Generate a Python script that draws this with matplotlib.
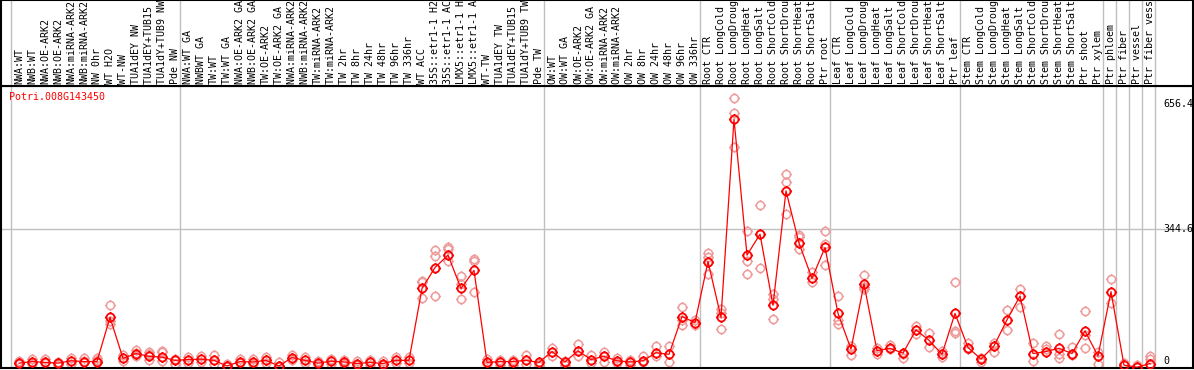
import numpy as np
import matplotlib.pyplot as plt
from matplotlib.path import Path

# gene shown in the panel
gene = "Potri.008G143450"

# samples, grouped (group boundaries are drawn as grey lines)
group_sizes = [13, 28, 12, 10, 10, 11, 1, 1, 1, 1]
samples = [
    "NWA:WT", "NWB:WT", "NWA:OE-ARK2", "NWB:OE-ARK2", "NWA:miRNA-ARK2",
    "NWB:miRNA-ARK2", "NW 0hr", "WT H2O", "WT-NW", "TUA1dEY NW",
    "TUA1dEY+TUB15 NW", "TUA1dY+TUB9 NW", "Pde NW",
    "NWA:WT GA", "NWBWT GA", "TW:WT", "TW:WT GA", "NWA:OE-ARK2 GA",
    "NWB:OE-ARK2 GA", "TW:OE-ARK2", "TW:OE-ARK2 GA", "NWA:miRNA-ARK2 GA",
    "NWB:miRNA-ARK2 GA", "TW:miRNA-ARK2", "TW:miRNA-ARK2 GA", "TW 2hr",
    "TW 8hr", "TW 24hr", "TW 48hr", "TW 96hr", "TW 336hr", "WT ACC",
    "35S::etr1-1 H2O", "35S::etr1-1 ACC", "LMX5::etr1-1 H2O",
    "LMX5::etr1-1 ACC", "WT-TW", "TUA1dEY TW", "TUA1dEY+TUB15 TW",
    "TUA1dY+TUB9 TW", "Pde TW",
    "OW:WT", "OW:WT GA", "OW:OE-ARK2", "OW:OE-ARK2 GA", "OW:miRNA-ARK2",
    "OW:miRNA-ARK2 GA", "OW 2hr", "OW 8hr", "OW 24hr", "OW 48hr", "OW 96hr",
    "OW 336hr",
    "Root CTR", "Root LongCold", "Root LongDrought", "Root LongHeat",
    "Root LongSalt", "Root ShortCold", "Root ShortDrought", "Root ShortHeat",
    "Root ShortSalt", "Ptr root",
    "Leaf CTR", "Leaf LongCold", "Leaf LongDrought", "Leaf LongHeat",
    "Leaf LongSalt", "Leaf ShortCold", "Leaf ShortDrought", "Leaf ShortHeat",
    "Leaf ShortSalt", "Ptr leaf",
    "Stem CTR", "Stem LongCold", "Stem LongDrought", "Stem LongHeat",
    "Stem LongSalt", "Stem ShortCold", "Stem ShortDrought", "Stem ShortHeat",
    "Stem ShortSalt", "Ptr shoot", "Ptr xylem",
    "Ptr phloem", "Ptr fiber", "Ptr vessel", "Ptr fiber vessel",
]

# mean expression per sample
means = [
    10, 14, 12, 10, 16, 14, 14, 124, 22, 34, 27, 25, 17,
    19, 20, 17, 3, 14, 13, 17, 3, 24, 17, 10, 15, 13, 9, 12, 9, 17, 17,
    196, 248, 279, 196, 241, 12, 14, 14, 17, 12,
    39, 13, 41, 19, 27, 16, 13, 16, 36, 32, 126, 111,
    263, 124, 617, 279, 331, 154, 439, 309, 221, 298,
    134, 45, 207, 41, 47, 35, 93, 67, 32, 134,
    49, 20, 53, 118, 177, 34, 39, 47, 34, 90, 28,
    188, 5, 0, 9,
]

# individual replicates per sample
replicates = [
    [16, 7], [20, 7], [20, 10], [5, 12], [24, 9], [24, 15], [22, 17, 12],
    [154, 107, 114], [30, 15], [42, 27, 35], [39, 19, 32], [41, 37, 16],
    [7, 20],
    [25, 10], [27, 12], [30, 7], [7, 2], [20, 10], [20, 7], [25, 10],
    [12, 2], [30, 17], [25, 10], [15, 5], [20, 7], [17, 7], [15, 5],
    [17, 5], [15, 5], [25, 10], [25, 10],
    [211, 173, 215], [291, 276, 177], [298, 264, 294], [226, 171, 207],
    [270, 264, 186], [20, 7], [17, 5], [17, 5], [30, 7], [7, 2],
    [49, 28], [15, 5], [57, 27], [30, 10], [38, 12], [22, 10], [17, 5],
    [27, 12], [52, 27], [52, 13], [151, 104, 117], [104, 117],
    [285, 231, 274], [144, 96, 134], [671, 632, 547], [338, 264, 233],
    [403, 331, 246], [183, 119, 169], [482, 460, 382], [329, 295, 323],
    [236, 211], [338, 306, 254],
    [176, 118, 107], [30, 52], [229, 199, 194], [32, 47], [45, 55],
    [32, 22], [103, 82], [85, 50], [40, 25], [212, 90, 86],
    [61, 45], [24, 12], [60, 37], [142, 92], [194, 151], [61, 16],
    [53, 45], [82, 32, 24], [50, 30], [140, 80, 49], [38, 7],
    [219, 161], [10], [5], [28, 20],
]

# value labels on the right
scale_marks = [656.4, 344.6, 0]

W, H = 1194, 370
fig = plt.figure(figsize=(W / 100, H / 100), dpi=100)


def px_box(x0, y0, x1, y1):
    return [x0 / W, 1 - y1 / H, (x1 - x0) / W, (y1 - y0) / H]


ax = fig.add_axes(px_box(1, 86, 1193, 368))
hx = fig.add_axes(px_box(1, 0, 1193, 86))

xs = np.arange(len(samples))
xlim = ((1 - 19) / 13, (1193 - 19) / 13)
grid_c = "#c0c0c0"
mono = "DejaVu Sans Mono"

# ring marker with four little ticks
theta = np.linspace(0, 2 * np.pi, 33)
verts = list(zip(np.cos(theta), np.sin(theta)))
codes = [Path.MOVETO] + [Path.LINETO] * 32
for dx, dy in [(0, 1), (0, -1), (1, 0), (-1, 0)]:
    verts += [(dx, dy), (dx * 1.35, dy * 1.35)]
    codes += [Path.MOVETO, Path.LINETO]
ring = Path(verts, codes)

# group separators
bounds = np.concatenate([[0], np.cumsum(group_sizes)]) - 8 / 13
for a in (ax, hx):
    for b in bounds:
        a.axvline(b, color=grid_c, lw=1.0, zorder=0)
ax.axhline(344.6, color=grid_c, lw=1.0, zorder=0)

# replicates
for x, reps in zip(xs, replicates):
    ax.plot([x] * len(reps), reps, linestyle="none", marker=ring,
            markersize=7.8, markerfacecolor="none", markeredgecolor="#ef9a9a",
            markeredgewidth=1.1, zorder=2)

# mean line
ax.plot(xs, means, color="red", lw=0.9, zorder=3)
ax.plot(xs, means, linestyle="none", marker=ring, markersize=7.8,
        markerfacecolor="none", markeredgecolor="red", markeredgewidth=1.3,
        zorder=4)

ax.set_xlim(*xlim)
ax.set_ylim(-2, 700)
ax.set_xticks([])
ax.set_yticks([])
for s in ax.spines.values():
    s.set_linewidth(1.5)
    s.set_color("black")

ax.text((9 - 1) / 1192, 1 - (97 - 86) / 282, gene, transform=ax.transAxes,
        color="red", fontsize=7.2, family=mono, va="center", ha="left")

for v in scale_marks:
    yy = v if v > 0 else 15
    ax.text(88.0, yy, f"{v:g}", fontsize=7.2, family=mono, va="center",
            ha="left", color="black")

# header with rotated sample names
hx.set_xlim(*xlim)
hx.set_ylim(86, 0)
hx.set_xticks([])
hx.set_yticks([])
for s in hx.spines.values():
    s.set_linewidth(1.5)
    s.set_color("black")
for x, lab in zip(xs, samples):
    hx.text(x, 83.5, lab, rotation=90, ha="center", va="bottom",
            fontsize=7.2, family=mono, color="black", clip_on=True)

fig.savefig("out.png", dpi=100)
